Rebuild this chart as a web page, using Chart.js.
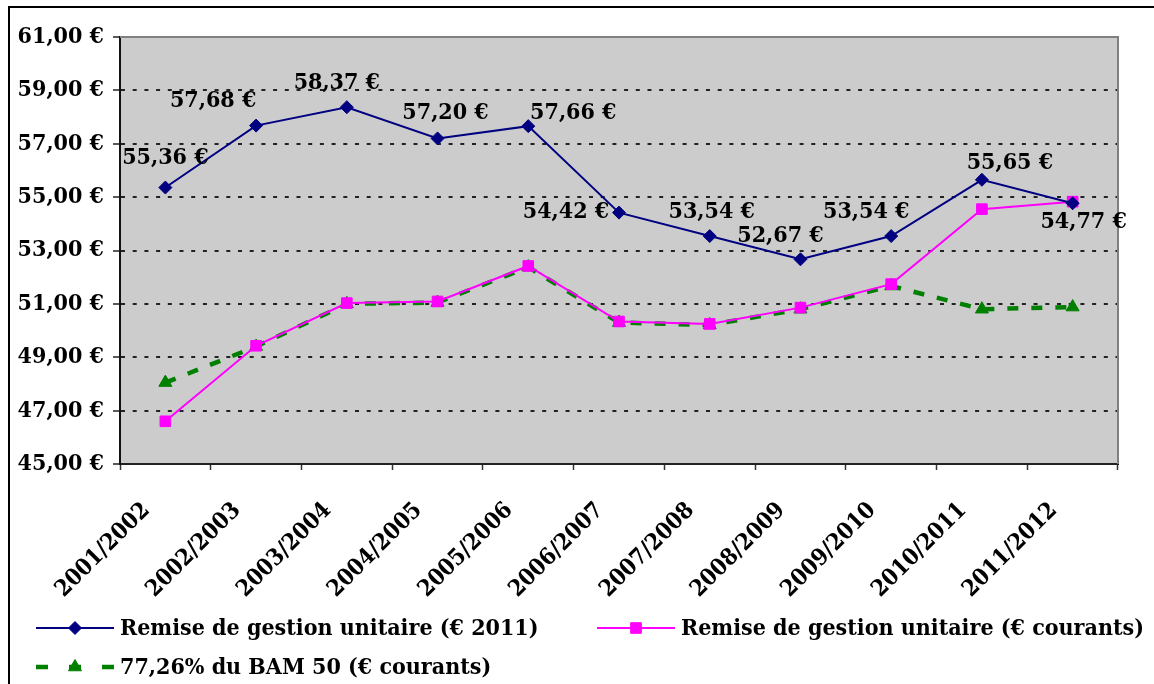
<!DOCTYPE html>
<html>
<head>
<meta charset="utf-8">
<script src="https://cdn.jsdelivr.net/npm/chart.js@4/dist/chart.umd.min.js"></script>
<style>
  html, body { margin: 0; padding: 0; background: #ffffff; overflow: hidden; }
  #wrap { position: relative; width: 1154px; height: 684px; }
  #frame { position: absolute; left: 8px; top: 6px; width: 1200px; height: 720px; border: 2px solid #000; box-sizing: border-box; }
  #c { position: absolute; left: 0; top: 0; }
</style>
</head>
<body>
<div id="wrap">
  <div id="frame"></div>
  <canvas id="c" width="1154" height="684"></canvas>
</div>
<script>
// Seasons on the horizontal axis
const seasons = ['2001/2002', '2002/2003', '2003/2004', '2004/2005', '2005/2006', '2006/2007',
                 '2007/2008', '2008/2009', '2009/2010', '2010/2011', '2011/2012'];

// Unit management fee, constant 2011 euros
const remiseConstante = [55.36, 57.68, 58.37, 57.20, 57.66, 54.42, 53.54, 52.67, 53.54, 55.65, 54.77];

// Unit management fee, current euros
const remiseCourante = [46.60, 49.43, 51.03, 51.09, 52.42, 50.34, 50.25, 50.86, 51.74, 54.55, 54.83];

// 77.26% of the BAM 50, current euros
const bam50 = [48.05, 49.40, 51.00, 51.05, 52.38, 50.30, 50.21, 50.80, 51.67, 50.80, 50.88];

// Vertical axis bounds and step
const yMin = 45, yMax = 61, yStep = 2;

const seriesNames = [
  'Remise de gestion unitaire (€ 2011)',
  'Remise de gestion unitaire (€ courants)',
  '77,26% du BAM 50 (€ courants)'
];

const FONT = '"DejaVu Serif Condensed", "DejaVu Serif", serif';
const TEXT_SIZE = 23;

function euro(v) {
  return v.toFixed(2).replace('.', ',') + ' €';
}

// Placement of each value label around its point (dx, dy in pixels)
const labelOffsets = [[0, -29], [-43, -25], [-10, -24], [8, -25], [45, -13], [-53, -1],
                      [2, -24], [-20, -23], [-25, -24], [28, -17], [11, 19]];

const plotBackground = {
  id: 'plotBackground',
  beforeDraw(chart) {
    const { ctx, chartArea: a } = chart;
    ctx.save();
    ctx.fillStyle = '#cccccc';
    ctx.fillRect(a.left, a.top, a.right - a.left, a.bottom - a.top);
    ctx.restore();
  },
  beforeDatasetsDraw(chart) {
    const { ctx, chartArea: a } = chart;
    ctx.save();
    ctx.strokeStyle = '#808080';
    ctx.lineWidth = 2;
    ctx.beginPath();
    ctx.moveTo(a.left, a.top);
    ctx.lineTo(a.right, a.top);
    ctx.lineTo(a.right, a.bottom);
    ctx.stroke();
    ctx.restore();
  }
};

const valueLabels = {
  id: 'valueLabels',
  afterDatasetsDraw(chart) {
    const { ctx } = chart;
    const meta = chart.getDatasetMeta(0);
    ctx.save();
    ctx.font = 'bold ' + TEXT_SIZE + 'px ' + FONT;
    ctx.fillStyle = '#000';
    ctx.textAlign = 'center';
    ctx.textBaseline = 'middle';
    meta.data.forEach((pt, i) => {
      const off = labelOffsets[i];
      ctx.fillText(euro(remiseConstante[i]), pt.x + off[0], pt.y + off[1]);
    });
    ctx.restore();
  }
};

// Legend: line sample with its marker, then the series name
const legendItems = [
  { x: 36, y: 628, ds: 0 },
  { x: 597, y: 628, ds: 1 },
  { x: 36, y: 667, ds: 2 }
];

const customLegend = {
  id: 'customLegend',
  afterDraw(chart) {
    const { ctx } = chart;
    ctx.save();
    legendItems.forEach(it => {
      const d = chart.data.datasets[it.ds];
      const x1 = it.x, x2 = it.x + 78, mid = (x1 + x2) / 2;
      ctx.save();
      ctx.strokeStyle = d.borderColor;
      ctx.lineWidth = d.borderWidth;
      ctx.setLineDash(d.legendDash || d.borderDash || []);
      ctx.beginPath();
      ctx.moveTo(x1, it.y);
      ctx.lineTo(x2, it.y);
      ctx.stroke();
      ctx.restore();
      ctx.save();
      ctx.fillStyle = d.pointBackgroundColor;
      ctx.strokeStyle = d.pointBorderColor;
      ctx.lineWidth = 1;
      Chart.helpers.drawPoint(ctx, {
        pointStyle: d.pointStyle,
        radius: d.pointRadius,
        rotation: 0,
        borderWidth: 1
      }, mid, it.y);
      ctx.restore();
      ctx.fillStyle = '#000';
      ctx.font = 'bold ' + TEXT_SIZE + 'px ' + FONT;
      ctx.textAlign = 'left';
      ctx.textBaseline = 'middle';
      ctx.fillText(seriesNames[it.ds], x2 + 6, it.y + 1);
    });
    ctx.restore();
  }
};

new Chart(document.getElementById('c'), {
  type: 'line',
  data: {
    labels: seasons,
    datasets: [
      {
        label: seriesNames[0],
        data: remiseConstante,
        borderColor: '#000080',
        backgroundColor: '#000080',
        borderWidth: 2,
        pointStyle: 'rectRot',
        pointRadius: 6.5,
        pointBackgroundColor: '#000080',
        pointBorderColor: '#000080',
        pointBorderWidth: 1,
        tension: 0
      },
      {
        label: seriesNames[1],
        data: remiseCourante,
        borderColor: '#ff00ff',
        backgroundColor: '#ff00ff',
        borderWidth: 2,
        pointStyle: 'rect',
        pointRadius: 7.5,
        pointBackgroundColor: '#ff00ff',
        pointBorderColor: '#ff00ff',
        pointBorderWidth: 1,
        tension: 0
      },
      {
        label: seriesNames[2],
        data: bam50,
        borderColor: '#008000',
        backgroundColor: '#008000',
        borderWidth: 4.5,
        borderDash: [11, 13],
        legendDash: [12, 21],
        pointStyle: 'triangle',
        pointRadius: 7.5,
        pointBackgroundColor: '#008000',
        pointBorderColor: '#008000',
        pointBorderWidth: 1,
        tension: 0
      }
    ]
  },
  options: {
    responsive: false,
    animation: false,
    devicePixelRatio: 1,
    layout: { padding: { left: 0, top: 37, right: 36, bottom: 0 } },
    plugins: {
      legend: { display: false },
      tooltip: { enabled: false }
    },
    scales: {
      x: {
        type: 'category',
        offset: true,
        grid: {
          offset: true,
          drawOnChartArea: false,
          drawTicks: true,
          tickLength: 6,
          tickColor: '#333',
          tickWidth: 1.5,
          color: '#333'
        },
        border: { display: true, color: '#222', width: 2 },
        ticks: {
          autoSkip: false,
          maxRotation: 45,
          minRotation: 45,
          color: '#000',
          padding: 27,
          labelOffset: -19,
          font: { family: FONT, size: TEXT_SIZE, weight: 'bold' }
        },
        afterFit(scale) { scale.height = 220; }
      },
      y: {
        min: yMin,
        max: yMax,
        ticks: {
          stepSize: yStep,
          color: '#000',
          padding: 9,
          font: { family: FONT, size: TEXT_SIZE, weight: 'bold' },
          callback: v => euro(v)
        },
        grid: {
          drawOnChartArea: true,
          color: '#222',
          lineWidth: 2,
          drawTicks: true,
          tickLength: 7,
          tickColor: '#222',
          tickWidth: 1.5,
          tickBorderDash: []
        },
        border: { display: true, color: '#111', width: 2, dash: [4, 7.7] },
        afterFit(scale) { scale.width = 120; }
      }
    }
  },
  plugins: [plotBackground, valueLabels, customLegend]
});
</script>
</body>
</html>
